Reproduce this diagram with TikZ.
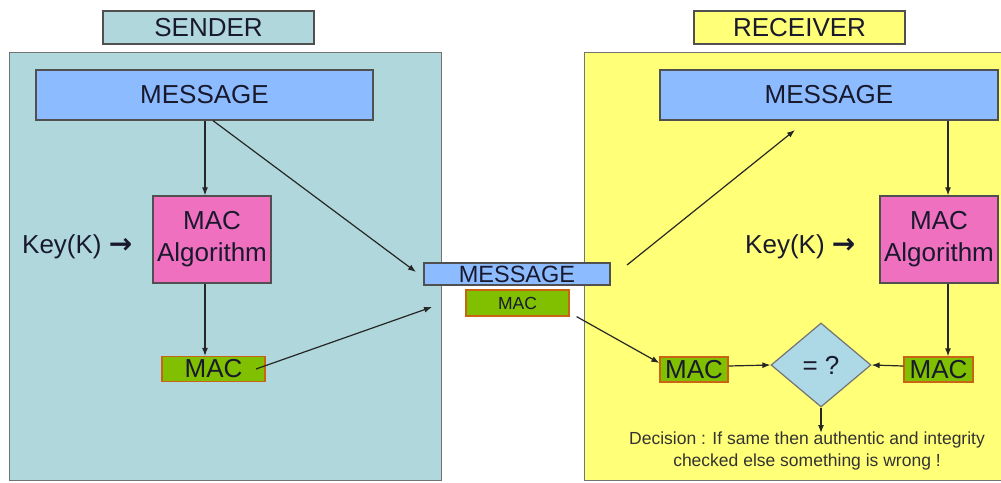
\documentclass[tikz,border=0pt]{standalone}
\usepackage{fontspec}
\setmainfont{Liberation Sans}
\newfontfamily\arrowfont{DejaVu Sans}
\usetikzlibrary{shapes.geometric,arrows.meta}
\definecolor{teal1}{RGB}{176,216,220}
\definecolor{yel1}{RGB}{255,255,120}
\definecolor{msgblue}{RGB}{140,188,255}
\definecolor{algpink}{RGB}{240,112,192}
\definecolor{macgreen}{RGB}{128,192,0}
\definecolor{macborder}{RGB}{200,100,20}
\definecolor{diablue}{RGB}{173,216,230}
\definecolor{txtdark}{RGB}{25,25,45}
\definecolor{edge}{RGB}{80,80,80}
\newcommand{\keyarrow}{{\arrowfont\bfseries\fontsize{28}{30}\selectfont →}}
\tikzset{
  panel/.style={draw=edge!80, line width=1.4pt, inner sep=0pt, anchor=north west},
  titlebox/.style={draw=edge, line width=1.3pt, inner sep=0pt, minimum width=211pt, minimum height=33pt, font=\fontsize{26}{28}\selectfont, text=txtdark},
  msgbox/.style={draw=edge, line width=1.3pt, fill=msgblue, inner sep=0pt, font=\fontsize{26}{30}\selectfont, text=txtdark},
  algbox/.style={draw=edge, line width=1.3pt, fill=algpink, inner sep=0pt, minimum width=118pt, minimum height=87pt, align=center, font=\fontsize{26}{32}\selectfont, text=txtdark},
  macbox/.style={draw=macborder, line width=1.3pt, fill=macgreen, inner sep=0pt, minimum height=25pt, font=\fontsize{26}{30}\selectfont, text=txtdark},
  keytxt/.style={inner sep=0pt, font=\fontsize{26}{30}\selectfont, text=txtdark},
  conn/.style={draw=black!85, line width=1.2pt, -{Latex[length=8pt,width=6pt]}},
}
\begin{document}
\begin{tikzpicture}[x=1pt,y=-1pt]
\useasboundingbox (0,0) rectangle (1001,482);
\fill[white] (0,0) rectangle (1001,482);
% panels
\node[panel, fill=teal1, minimum width=432pt, minimum height=428pt] (spanel) at (9,52) {};
\node[panel, fill=yel1, minimum width=424pt, minimum height=428pt] (rpanel) at (584,52) {};
% titles
\node[titlebox, fill=teal1] (stitle) at (208.5,27.5) {SENDER};
\node[titlebox, fill=yel1] (rtitle) at (799.5,27.5) {RECEIVER};
% sender
\node[msgbox, minimum width=337pt, minimum height=50pt] (smsg) at (204.5,95) {MESSAGE};
\node[algbox] (salg) at (212,239.5) {MAC\\Algorithm};
\node[keytxt, anchor=base west] (skey) at (22,253) {Key(K) \keyarrow};
\node[macbox, minimum width=103pt] (smac) at (213.5,369) {MAC};
% middle
\node[msgbox, minimum width=186pt, minimum height=22pt, text height=16pt, text depth=0pt, font=\fontsize{23.5}{26}\selectfont] (mmsg) at (517,274) {MESSAGE};
\node[macbox, minimum width=103pt, minimum height=26pt, font=\fontsize{17.5}{20}\selectfont] (mmac) at (517.5,303) {MAC};
% receiver
\node[msgbox, minimum width=338pt, minimum height=50pt] (rmsg) at (829,95) {MESSAGE};
\node[algbox] (ralg) at (939,239.5) {MAC\\Algorithm};
\node[keytxt, anchor=base west] (rkey) at (745,253) {Key(K) \keyarrow};
\node[macbox, minimum width=68pt] (rmacl) at (694,369.5) {MAC};
\node[macbox, minimum width=69pt] (rmacr) at (938.5,369.5) {MAC};
\node[diamond, aspect=1.19, draw=edge!80, line width=1.2pt, fill=diablue, inner sep=0pt, minimum width=100pt, minimum height=84pt, font=\fontsize{26}{30}\selectfont, text=txtdark] (cmp) at (821,365) {= ?};
\node[inner sep=0pt, align=center, font=\fontsize{17.5}{22}\selectfont, text=black!80] (dec) at (807,451) {Decision : If same then authentic and integrity\\checked else something is wrong !};
% free ends
\coordinate (sdiagend) at (416,272);
\coordinate (smacend) at (432,307);
\coordinate (rdiagend) at (795,130);
\coordinate (decend) at (821,433);
% connectors
\draw[conn] (smsg.south -| 205,0) -- (salg.north -| 205,0);
\draw[conn] (salg.south -| 205,0) -- (smac.north -| 205,0);
\draw[conn] (smsg.south -| 213,0) -- (sdiagend);
\draw[conn] (smac.center -| 256,0) -- (smacend);
\draw[conn] (mmsg.east -| 627,0) ++(0,-9) -- (rdiagend);
\draw[conn] (mmac.south east) ++(7,0) -- (rmacl.west |- 0,363);
\draw[conn] (rmsg.south -| 948,0) -- (ralg.north -| 948,0);
\draw[conn] (ralg.south -| 948,0) -- (rmacr.north -| 948,0);
\draw[conn] (rmacl.east |- 0,366) -- (cmp.west);
\draw[conn] (rmacr.west |- 0,366) -- (cmp.east);
\draw[conn] (cmp.south) -- (decend);
\end{tikzpicture}
\end{document}
